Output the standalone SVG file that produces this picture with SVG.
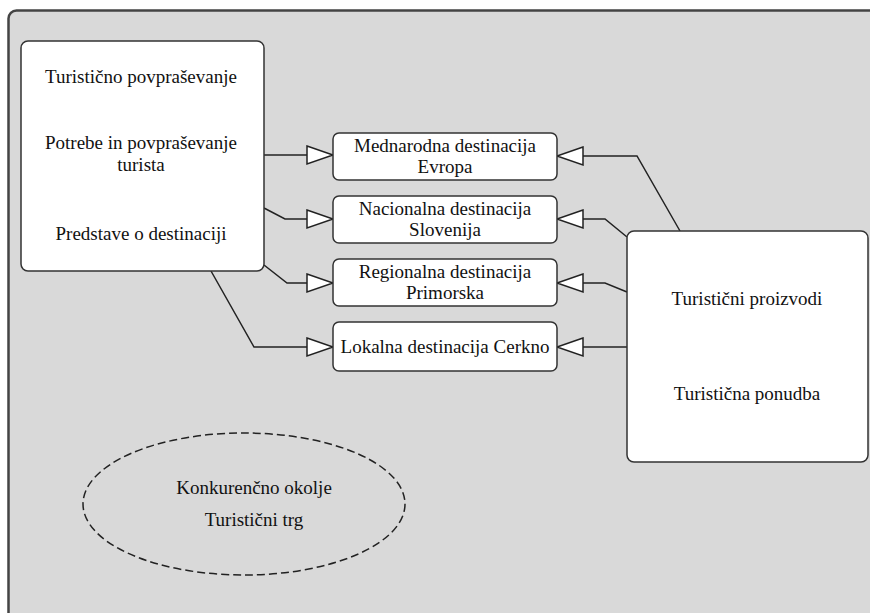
<svg xmlns="http://www.w3.org/2000/svg" width="870" height="613" viewBox="0 0 870 613">
<style>
.box{fill:#ffffff;stroke:#333333;stroke-width:1.5}
.t{font-family:'Liberation Serif','Times New Roman',serif;font-size:19px;fill:#111111;text-anchor:middle}
.c{fill:none;stroke:#222222;stroke-width:1.5}
.ah{fill:#ffffff;stroke:#222222;stroke-width:1.5;stroke-linejoin:miter}
</style>
<rect width="870" height="613" fill="#ffffff"/>
<rect id="background" x="8.5" y="10.5" width="880" height="640" rx="8" fill="#d9d9d9" stroke="#444444" stroke-width="2.5"/>
<g id="connectors">
<polyline class="c" points="264,155 307,155"/>
<polyline class="c" points="264,208 285,219 307,219"/>
<polyline class="c" points="264,265 287,283 307,283"/>
<polyline class="c" points="211,271 254,347 307,347"/>
<polyline class="c" points="583,156 637,156 680,231"/>
<polyline class="c" points="583,219 605,219 627,237"/>
<polyline class="c" points="583,283 605,283 627,292"/>
<polyline class="c" points="583,347 627,347"/>
<polygon class="ah" points="307,146 333,155 307,164"/>
<polygon class="ah" points="307,210 333,219 307,228"/>
<polygon class="ah" points="307,274 333,283 307,292"/>
<polygon class="ah" points="307,338 333,347 307,356"/>
<polygon class="ah" points="583,147 557,156 583,165"/>
<polygon class="ah" points="583,210 557,219 583,228"/>
<polygon class="ah" points="583,274 557,283 583,292"/>
<polygon class="ah" points="583,338 557,347 583,356"/>
</g>
<g id="demand">
<rect class="box" x="21" y="41" width="243" height="230" rx="7"/>
<text class="t" x="141" y="83">Turistično povpraševanje</text>
<text class="t" x="141" y="149">Potrebe in povpraševanje</text>
<text class="t" x="141" y="171">turista</text>
<text class="t" x="141" y="240">Predstave o destinaciji</text>
</g>
<g id="europe">
<rect class="box" x="333" y="133" width="224" height="47" rx="6"/>
<text class="t" x="445" y="152">Mednarodna destinacija</text>
<text class="t" x="445" y="173">Evropa</text>
</g>
<g id="slovenia">
<rect class="box" x="333" y="196" width="224" height="47" rx="6"/>
<text class="t" x="445" y="215">Nacionalna destinacija</text>
<text class="t" x="445" y="236">Slovenija</text>
</g>
<g id="primorska">
<rect class="box" x="333" y="259" width="224" height="47" rx="6"/>
<text class="t" x="445" y="278">Regionalna destinacija</text>
<text class="t" x="445" y="299">Primorska</text>
</g>
<g id="cerkno">
<rect class="box" x="333" y="322" width="224" height="49" rx="6"/>
<text class="t" x="445" y="353">Lokalna destinacija Cerkno</text>
</g>
<g id="supply">
<rect class="box" x="627" y="231" width="241" height="231" rx="7"/>
<text class="t" x="747" y="305">Turistični proizvodi</text>
<text class="t" x="747" y="400">Turistična ponudba</text>
</g>
<g id="market">
<ellipse cx="244" cy="504" rx="161" ry="71" fill="none" stroke="#222222" stroke-width="1.5" stroke-dasharray="8,4"/>
<text class="t" x="254" y="494">Konkurenčno okolje</text>
<text class="t" x="254" y="526">Turistični trg</text>
</g>
</svg>
